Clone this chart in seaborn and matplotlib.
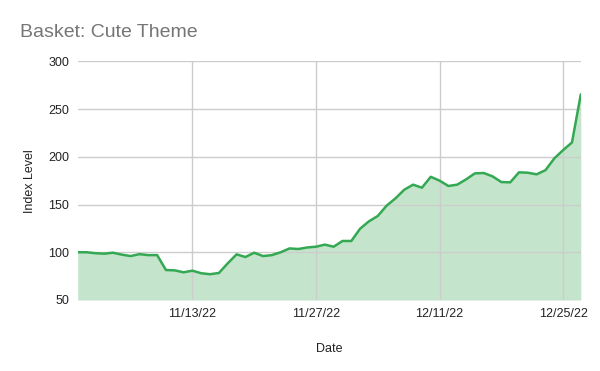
import pandas as pd
import numpy as np
import matplotlib
matplotlib.use("Agg")
import matplotlib.pyplot as plt
import matplotlib.dates as mdates
import seaborn as sns

# daily index level, 10/31/22 .. 12/27/22
start_date = "2022-10-31"
index_level = [
    100, 100, 99, 98.5, 99.5, 97.5, 96, 98, 97, 97,
    81.4, 81, 79, 80.7, 78, 77, 78.3, 88.4, 97.8, 95,
    99.5, 96, 97, 100, 104, 103.4, 105, 105.8, 108, 105.8,
    111.8, 111.8, 124.7, 132.4, 138, 148.8, 156.4, 165.5, 170.8, 167.6,
    179, 175, 169.4, 170.8, 176.3, 182.6, 183, 179.5, 173.5, 173.2,
    183.7, 183.3, 181.6, 186, 198.3, 207, 215, 265.3,
]
tick_dates = ["2022-11-13", "2022-11-27", "2022-12-11", "2022-12-25"]
y_ticks = [50, 100, 150, 200, 250, 300]

df = pd.DataFrame({
    "Date": pd.date_range(start_date, periods=len(index_level), freq="D"),
    "Index Level": index_level,
})

sns.set_theme(style="white")
plt.rcParams["font.family"] = ["Liberation Sans", "DejaVu Sans"]

line_color = "#34a853"
fig = plt.figure(figsize=(6, 3.71), dpi=100)
ax = fig.add_axes([0.1295, 0.1914, 0.8385, 0.6434])

ax.fill_between(df["Date"], df["Index Level"], 50, color="#c4e5cb", linewidth=0, zorder=1)
sns.lineplot(data=df, x="Date", y="Index Level", ax=ax, color=line_color, linewidth=1.8, zorder=3)

ax.set_xlim(df["Date"].iloc[0], df["Date"].iloc[-1])
ax.set_ylim(50, 300)
ax.set_yticks(y_ticks)
ax.set_xticks(pd.to_datetime(tick_dates))
ax.xaxis.set_major_formatter(mdates.DateFormatter("%m/%d/%y"))
ax.set_xticklabels([d.strftime("%-m/%-d/%y") for d in pd.to_datetime(tick_dates)])

ax.grid(True, color="#cccccc", linewidth=1, zorder=2)
ax.set_axisbelow(False)
for s in ax.spines.values():
    s.set_visible(False)
ax.tick_params(axis="both", length=0, labelsize=9, colors="#222222", pad=6)

ax.set_xlabel("Date", fontsize=9, color="#222222", labelpad=16)
ax.set_ylabel("Index Level", fontsize=9, color="#222222", labelpad=9)

fig.text(0.033, 0.912, "Basket: Cute Theme", fontsize=14, color="#757575", va="center")

fig.savefig("out.png", dpi=100)
